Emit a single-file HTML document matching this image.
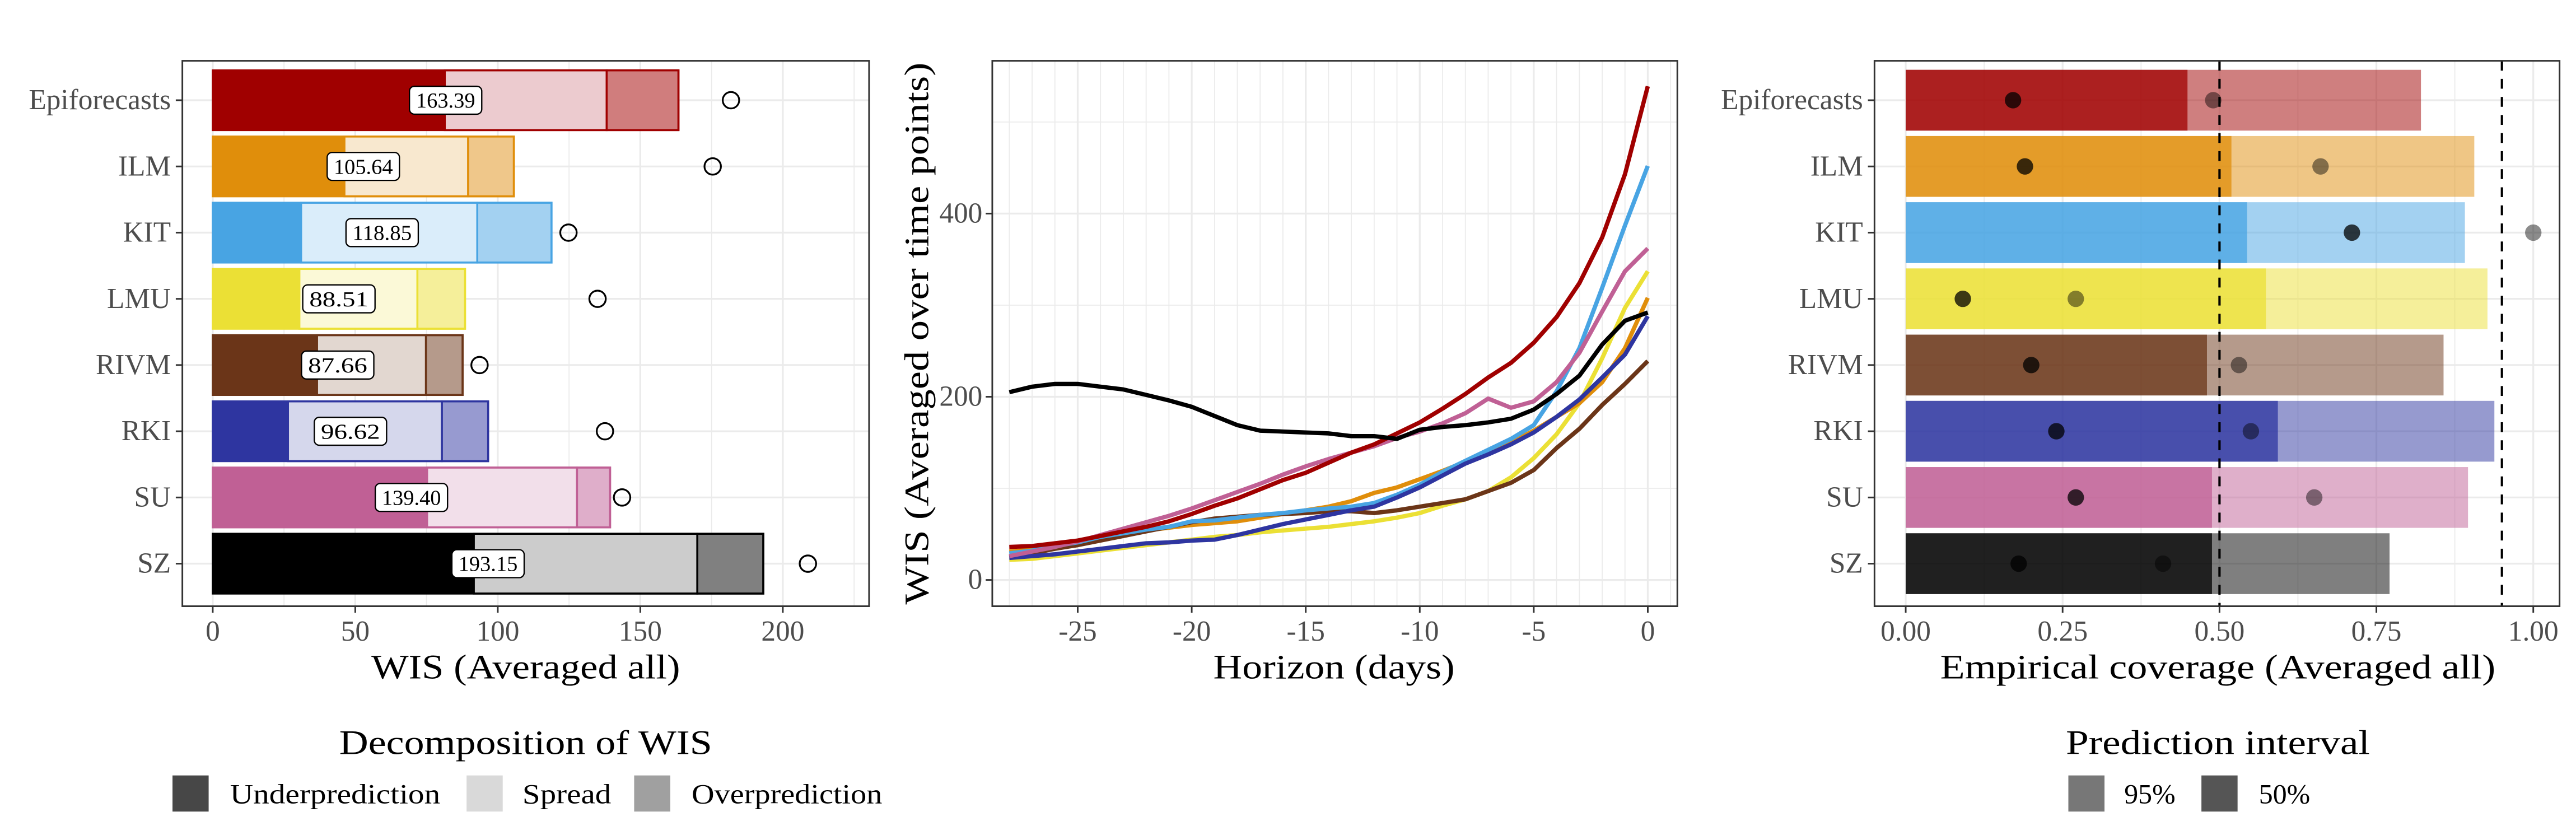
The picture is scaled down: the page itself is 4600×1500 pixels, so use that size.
<!DOCTYPE html>
<html><head><meta charset="utf-8">
<style>
html,body{margin:0;padding:0;background:#fff;}
svg{display:block;}
text{font-family:"Liberation Serif",serif;}
</style></head>
<body>
<svg id="fig" xmlns="http://www.w3.org/2000/svg" width="4600" height="1500" viewBox="0 0 1568 511.3">
<rect x="0" y="0" width="1568" height="511.3" fill="#fff"/>
<g id="left"></g>
<g id="mid"></g>
<g id="right"></g>
<g id="legends"></g>
</svg>
<script>
const models = ["Epiforecasts","ILM","KIT","LMU","RIVM","RKI","SU","SZ"];
const colors = ["#A00000","#E08E0B","#48A4E3","#EBE035","#6B3518","#2E35A0","#C06095","#000000"];
const spreadTint = ["#ECCBCF","#F8E8CF","#DAEDFA","#FBF9D7","#E2D7D0","#D5D7EC","#F2DFEA","#CCCCCC"];
const overTint = ["#D07D7D","#EFC78A","#A3D1F1","#F5EF9A","#B59A8B","#979AD0","#DFAECA","#808080"];
const underpred = [81.4,46.2,31.0,30.4,36.6,26.4,75.2,91.6];
const spread = [56.8,43.4,61.8,41.4,38.2,54.0,52.6,78.4];
const totalWIS = [163.39,105.64,118.85,88.51,87.66,96.62,139.40,193.15];
const benchmark = [181.8,175.4,124.8,135.0,93.6,137.6,143.6,208.8];
const wisTicks = [0,50,100,150,200];
const horizons = [-28,-27,-26,-25,-24,-23,-22,-21,-20,-19,-18,-17,-16,-15,-14,-13,-12,-11,-10,-9,-8,-7,-6,-5,-4,-3,-2,-1,0];
const wisEpi = [36,37,40,43,48,53,58,64,72,81,89,99,109,117,128,139,148,160,172,187,203,221,237,259,287,324,374,443,539];
const wisILM = [31,33,37,41,46,50,54,57,60,62,64,68,72,76,80,86,95,101,110,119,129,140,150,163,178,193,216,253,308];
const wisKIT = [29,32,37,41,47,51,55,58,64,65,68,71,73,76,78,80,84,93,104,118,130,142,154,169,206,253,319,387,452];
const wisLMU = [22,23,26,29,32,35,38,41,44,47,49,52,54,56,58,61,64,68,73,81,88,97,112,133,159,193,242,297,337];
const wisRIVM = [25,29,34,38,43,48,53,58,63,67,69,71,72,73,75,75,73,76,80,84,88,97,106,120,144,165,191,214,239];
const wisRKI = [24,26,28,31,34,37,40,41,43,44,49,55,61,66,71,76,80,90,101,114,127,137,148,161,178,197,221,246,288];
const wisSU = [26,31,36,42,49,56,63,70,78,87,96,105,115,124,132,139,146,155,162,171,182,198,188,195,216,248,293,337,362];
const wisSZ = [205,211,214,214,211,208,202,196,189,179,169,163,162,161,160,157,157,154,164,167,169,172,176,186,203,223,257,283,292];
const horizonTicks = [-25,-20,-15,-10,-5,0];
const wisYTicks = [0,200,400];
const cov50 = [0.449,0.519,0.544,0.574,0.480,0.593,0.488,0.488];
const cov95 = [0.821,0.906,0.891,0.927,0.857,0.938,0.896,0.771];
const dot50 = [0.171,0.19,0.711,0.091,0.20,0.24,0.271,0.18];
const dot95 = [0.490,0.661,1.0,0.271,0.531,0.55,0.651,0.41];
const covTicks = [0,0.25,0.5,0.75,1.0];
const covTickLabels = ["0.00","0.25","0.50","0.75","1.00"];
const nominal = [0.5,0.95];

const NS="http://www.w3.org/2000/svg";
function mk(parent,tag,attrs,txt){const e=document.createElementNS(NS,tag);for(const k in attrs)e.setAttribute(k,attrs[k]);if(txt!==undefined)e.textContent=txt;parent.appendChild(e);return e;}

const pTop=37, pBot=369, rowH=40.3;
const TF=17.5;
function rowY(i){return 61+rowH*i;}

// ---------- LEFT ----------
(function(){
const g=document.getElementById('left');
const L=111,R=529;
const x=v=>129.5+v*1.735;
mk(g,'rect',{x:L,y:pTop,width:R-L,height:pBot-pTop,fill:'#fff'});
for(let v=25;v<=225;v+=50){mk(g,'line',{x1:x(v),x2:x(v),y1:pTop,y2:pBot,stroke:'#EBEBEB','stroke-width':0.6});}
wisTicks.forEach(v=>{mk(g,'line',{x1:x(v),x2:x(v),y1:pTop,y2:pBot,stroke:'#EBEBEB','stroke-width':1.1});});
models.forEach((m,i)=>{mk(g,'line',{x1:L,x2:R,y1:rowY(i),y2:rowY(i),stroke:'#EBEBEB','stroke-width':1.1});});
models.forEach((m,i)=>{
  const y=rowY(i)-18.2,h=36.4;
  const u=underpred[i], s=u+spread[i], t=totalWIS[i];
  let r=mk(g,'rect',{x:x(0),y:y,width:x(u)-x(0),height:h,fill:colors[i]});
  
  
  r=mk(g,'rect',{x:x(u),y:y,width:x(s)-x(u),height:h,fill:spreadTint[i],stroke:colors[i],'stroke-width':1.2});
  
  
  r=mk(g,'rect',{x:x(s),y:y,width:x(t)-x(s),height:h,fill:overTint[i],stroke:colors[i],'stroke-width':1.2});
  
  
  mk(g,'rect',{x:x(0),y:y,width:x(t)-x(0),height:h,fill:'none',stroke:colors[i],'stroke-width':1.2});
  const c=mk(g,'circle',{cx:x(benchmark[i]),cy:rowY(i),r:5,fill:'none',stroke:'#000','stroke-width':1.1});
  
  
  const lx=x(t/2);
  const lb=mk(g,'rect',{x:lx-22,y:rowY(i)-8.5,width:44,height:17,rx:3,fill:'#fff',stroke:'#000','stroke-width':0.8});
  
  
  const lt=mk(g,'text',{x:lx,y:rowY(i)+4.5,'font-size':13,'text-anchor':'middle',fill:'#000',textLength:36,lengthAdjust:'spacingAndGlyphs'},totalWIS[i].toFixed(2));
  
  
  const tl=mk(g,'text',{x:104,y:rowY(i)+5.5,'font-size':TF,'text-anchor':'end',fill:'#4D4D4D'},m);
  
  
  mk(g,'line',{x1:107,x2:111,y1:rowY(i),y2:rowY(i),stroke:'#333','stroke-width':1});
});
mk(g,'rect',{x:L,y:pTop,width:R-L,height:pBot-pTop,fill:'none',stroke:'#333','stroke-width':1});
wisTicks.forEach(v=>{
  mk(g,'line',{x1:x(v),x2:x(v),y1:pBot,y2:pBot+4,stroke:'#333','stroke-width':1});
  const t=mk(g,'text',{x:x(v),y:pBot+21,'font-size':TF,'text-anchor':'middle',fill:'#4D4D4D'},String(v));
  
  
});
const xt=mk(g,'text',{x:320,y:413,'font-size':21,'text-anchor':'middle',fill:'#000',textLength:188,lengthAdjust:'spacingAndGlyphs'},'WIS (Averaged all)');


})();

// ---------- MIDDLE ----------
(function(){
const g=document.getElementById('mid');
const L=604,R=1021;
const x=v=>1003+v*13.88;
const y=v=>353-v*0.5575;
mk(g,'rect',{x:L,y:pTop,width:R-L,height:pBot-pTop,fill:'#fff'});
for(let d=-28;d<=1;d++){ if(d%5!==0) mk(g,'line',{x1:x(d),x2:x(d),y1:pTop,y2:pBot,stroke:'#EBEBEB','stroke-width':0.6}); }
[100,300,500].forEach(v=>mk(g,'line',{x1:L,x2:R,y1:y(v),y2:y(v),stroke:'#EBEBEB','stroke-width':0.6}));
horizonTicks.forEach(d=>mk(g,'line',{x1:x(d),x2:x(d),y1:pTop,y2:pBot,stroke:'#EBEBEB','stroke-width':1.1}));
wisYTicks.forEach(v=>mk(g,'line',{x1:L,x2:R,y1:y(v),y2:y(v),stroke:'#EBEBEB','stroke-width':1.1}));
const series=[wisLMU,wisILM,wisRIVM,wisKIT,wisRKI,wisSU,wisEpi,wisSZ];
const sIdx=[3,1,4,2,5,6,0,7];
series.forEach((s,k)=>{
  const i=sIdx[k];
  const pts=horizons.map((h,j)=>x(h).toFixed(2)+','+y(s[j]).toFixed(2)).join(' ');
  const p=mk(g,'polyline',{points:pts,fill:'none',stroke:colors[i],'stroke-width':2.6,'stroke-linejoin':'round'});
  
  
});
mk(g,'rect',{x:L,y:pTop,width:R-L,height:pBot-pTop,fill:'none',stroke:'#333','stroke-width':1});
horizonTicks.forEach(d=>{
  mk(g,'line',{x1:x(d),x2:x(d),y1:pBot,y2:pBot+4,stroke:'#333','stroke-width':1});
  const t=mk(g,'text',{x:x(d),y:pBot+21,'font-size':TF,'text-anchor':'middle',fill:'#4D4D4D'},String(d));
  
  
});
wisYTicks.forEach(v=>{
  mk(g,'line',{x1:L-4,x2:L,y1:y(v),y2:y(v),stroke:'#333','stroke-width':1});
  const t=mk(g,'text',{x:L-6,y:y(v)+5.5,'font-size':TF,'text-anchor':'end',fill:'#4D4D4D'},String(v));
  
  
});
const xt=mk(g,'text',{x:812,y:413,'font-size':21,'text-anchor':'middle',fill:'#000',textLength:147,lengthAdjust:'spacingAndGlyphs'},'Horizon (days)');


const yt=mk(g,'text',{x:0,y:0,'font-size':21,'text-anchor':'middle',fill:'#000',transform:'translate(565,203) rotate(-90)',textLength:330,lengthAdjust:'spacingAndGlyphs'},'WIS (Averaged over time points)');


})();

// ---------- RIGHT ----------
(function(){
const g=document.getElementById('right');
const L=1141,R=1558;
const x=v=>1160+v*382;
mk(g,'rect',{x:L,y:pTop,width:R-L,height:pBot-pTop,fill:'#fff'});
[0.125,0.375,0.625,0.875].forEach(v=>mk(g,'line',{x1:x(v),x2:x(v),y1:pTop,y2:pBot,stroke:'#EBEBEB','stroke-width':0.6}));
covTicks.forEach(v=>mk(g,'line',{x1:x(v),x2:x(v),y1:pTop,y2:pBot,stroke:'#EBEBEB','stroke-width':1.1}));
models.forEach((m,i)=>mk(g,'line',{x1:L,x2:R,y1:rowY(i),y2:rowY(i),stroke:'#EBEBEB','stroke-width':1.1}));
models.forEach((m,i)=>{
  const yy=rowY(i)-18.5,h=37;
  let r=mk(g,'rect',{x:x(0),y:yy,width:x(cov95[i])-x(0),height:h,fill:colors[i],'fill-opacity':0.5});
  
  
  r=mk(g,'rect',{x:x(0),y:yy,width:x(cov50[i])-x(0),height:h,fill:colors[i],'fill-opacity':0.75});
  
  
  let c=mk(g,'circle',{cx:x(dot50[i]),cy:rowY(i),r:5,fill:'#000','fill-opacity':0.75});
  
  
  c=mk(g,'circle',{cx:x(dot95[i]),cy:rowY(i),r:5,fill:'#000','fill-opacity':0.45});
  
  
  const tl=mk(g,'text',{x:1134,y:rowY(i)+5.5,'font-size':TF,'text-anchor':'end',fill:'#4D4D4D'},m);
  
  
  mk(g,'line',{x1:L-4,x2:L,y1:rowY(i),y2:rowY(i),stroke:'#333','stroke-width':1});
});
nominal.forEach(v=>{
  const l=mk(g,'line',{x1:x(v),x2:x(v),y1:pTop,y2:pBot,stroke:'#000','stroke-width':1.4,'stroke-dasharray':'6,5'});
  
  
});
mk(g,'rect',{x:L,y:pTop,width:R-L,height:pBot-pTop,fill:'none',stroke:'#333','stroke-width':1});
covTicks.forEach((v,k)=>{
  mk(g,'line',{x1:x(v),x2:x(v),y1:pBot,y2:pBot+4,stroke:'#333','stroke-width':1});
  const t=mk(g,'text',{x:x(v),y:pBot+21,'font-size':TF,'text-anchor':'middle',fill:'#4D4D4D'},covTickLabels[k]);
  
  
});
const xt=mk(g,'text',{x:1350,y:413,'font-size':21,'text-anchor':'middle',fill:'#000',textLength:338,lengthAdjust:'spacingAndGlyphs'},'Empirical coverage (Averaged all)');


})();

// ---------- LEGENDS ----------
(function(){
const g=document.getElementById('legends');
let t=mk(g,'text',{x:320,y:459,'font-size':21,'text-anchor':'middle',fill:'#000',textLength:227,lengthAdjust:'spacingAndGlyphs'},'Decomposition of WIS');


const keys=[[105,'#474747','Underprediction',140,128],[284,'#D9D9D9','Spread',318,54],[386,'#A0A0A0','Overprediction',421,116]];
keys.forEach(k=>{
  const r=mk(g,'rect',{x:k[0],y:472,width:22,height:22,fill:k[1]});
  
  
  const tt=mk(g,'text',{x:k[3],y:489,'font-size':17,fill:'#000',textLength:k[4],lengthAdjust:'spacingAndGlyphs'},k[2]);
  
  
});
t=mk(g,'text',{x:1350,y:459,'font-size':21,'text-anchor':'middle',fill:'#000',textLength:185,lengthAdjust:'spacingAndGlyphs'},'Prediction interval');


const k2=[[1259,'#777777','95%',1293],[1340,'#555555','50%',1375]];
k2.forEach(k=>{
  const r=mk(g,'rect',{x:k[0],y:472,width:22,height:22,fill:k[1]});
  
  
  const tt=mk(g,'text',{x:k[3],y:489,'font-size':17,fill:'#000'},k[2]);
  
  
});
})();
</script>
</body></html>
